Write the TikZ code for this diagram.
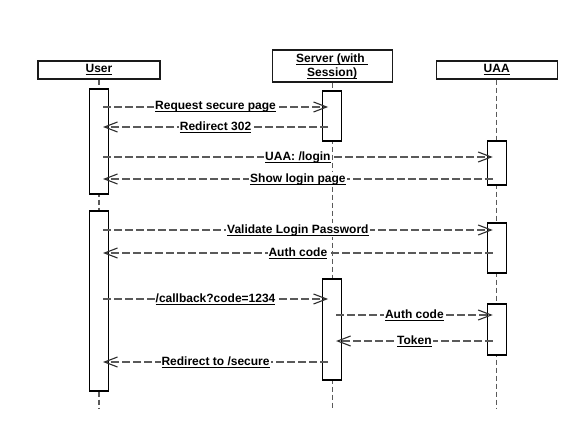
\documentclass[tikz,border=0pt]{standalone}
\usepackage{amsmath}
\usepackage{fontspec}
\setmainfont{Liberation Sans}
\usepackage{xcolor}
\usepackage{tikz}
\usetikzlibrary{arrows.meta,positioning}
\definecolor{seqLine}{HTML}{5A5A5A}
\definecolor{seqTip}{HTML}{2E2E2E}
\definecolor{seqBorder}{HTML}{1A1A1A}
\newcommand{\ulab}[1]{\underline{\smash[b]{#1}}}
\tikzset{
  hdr/.style={rectangle, draw=seqBorder, fill=white, align=center, minimum width=121pt, minimum height=18pt, inner sep=0pt, font=\bfseries\fontsize{12}{14}\selectfont},
  act/.style={rectangle, draw=black, fill=white, minimum width=19pt, inner sep=0pt},
  lifeline/.style={draw=seqLine, dash pattern=on 5pt off 3pt},
  msg/.style={draw=seqLine, dash pattern=on 8pt off 3pt, shorten <=4pt, shorten >=4pt, -{Straight Barb[length=13pt,width=10pt,color=seqTip]}},
  lbl/.style={fill=white, inner sep=1pt, font=\bfseries\fontsize{12}{14}\selectfont}
}
\begin{document}
\begin{tikzpicture}[x=1pt,y=-1pt,line width=1.1pt]
\useasboundingbox (0,0) rectangle (577,430);

\node[hdr, minimum width=122pt] (user) at (99,70) {\ulab{User}};
\node[hdr, minimum width=120pt, minimum height=32pt, right=111pt of user, yshift=4pt] (server) {\ulab{Server (with\ }\\\ulab{Session)}};
\node[hdr, right=43pt of server, yshift=-4pt] (uaa) {\ulab{UAA}};

\draw[lifeline] (user.south) -- (user.south |- 0,409);
\draw[lifeline] (server.south) -- (server.south |- 0,409);
\draw[lifeline] (uaa.south) -- (uaa.south |- 0,409);

\node[act, minimum height=105pt] (uact1) at (user |- 0,141.5) {};
\node[act, minimum height=50pt] (sact1) at (server |- 0,116) {};
\node[act, minimum height=44pt] (aact1) at (uaa |- 0,163) {};
\node[act, minimum height=180pt] (uact2) at (user |- 0,301) {};
\node[act, minimum height=50pt] (aact2) at (uaa |- 0,248) {};
\node[act, minimum height=101pt] (sact2) at (server |- 0,329.5) {};
\node[act, minimum height=51pt] (aact3) at (uaa |- 0,329.5) {};

\draw[msg] (uact1 |- 0,107) -- node[lbl] {\ulab{Request secure page}} (sact1 |- 0,107);
\draw[msg] (sact1 |- 0,127) -- node[lbl] {\ulab{Redirect 302}} (uact1 |- 0,127);
\draw[msg] (uact1 |- 0,157) -- node[lbl] {\ulab{UAA: /login}} (aact1 |- 0,157);
\draw[msg] (aact1 |- 0,179) -- node[lbl] {\ulab{Show login page}} (uact1 |- 0,179);
\draw[msg] (uact2 |- 0,230) -- node[lbl] {\ulab{Validate Login Password}} (aact2 |- 0,230);
\draw[msg] (aact2 |- 0,253) -- node[lbl] {\ulab{Auth code}} (uact2 |- 0,253);
\draw[msg] (uact2 |- 0,299) -- node[lbl] {\ulab{/callback?code=1234}} (sact2 |- 0,299);
\draw[msg] (sact2 |- 0,315) -- node[lbl] {\ulab{Auth code}} (aact3 |- 0,315);
\draw[msg] (aact3 |- 0,341) -- node[lbl] {\ulab{Token}} (sact2 |- 0,341);
\draw[msg] (sact2 |- 0,362) -- node[lbl] {\ulab{Redirect to /secure}} (uact2 |- 0,362);

\end{tikzpicture}
\end{document}
